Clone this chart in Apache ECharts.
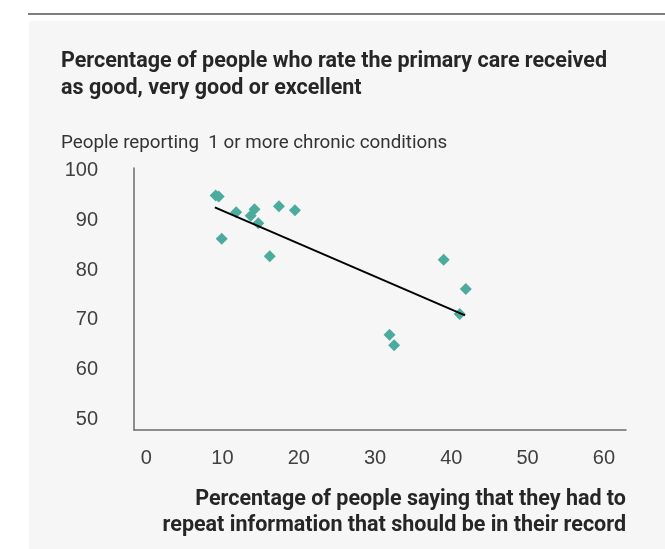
<!DOCTYPE html>
<html>
<head>
<meta charset="utf-8">
<script src="https://cdn.jsdelivr.net/npm/echarts@6/dist/echarts.min.js"></script>
<style>
html,body{margin:0;padding:0;background:#ffffff;}
#chart{width:665px;height:549px;}
</style>
</head>
<body>
<div id="chart"></div>
<script>
// ---- data ----
var xValues = [9.1, 9.5, 11.8, 14.2, 13.7, 14.7, 17.4, 19.5, 9.9, 16.2, 39.0, 41.9, 41.1, 31.9, 32.5];
var yValues = [95.0, 94.8, 91.6, 92.2, 90.9, 89.4, 92.8, 92.0, 86.3, 82.8, 82.1, 76.2, 71.2, 67.0, 64.9];
var trendX = [9.0, 41.8];
var trendY = [92.6, 70.9];
var xTickLabels = [0, 10, 20, 30, 40, 50, 60];
var yTickLabels = [50, 60, 70, 80, 90, 100];
var titleText = 'Percentage of people who rate the primary care received\nas good, very good or excellent';
var subtitleText = 'People reporting  1 or more chronic conditions';
var xAxisTitle = 'Percentage of people saying that they had to\nrepeat information that should be in their record';

var points = xValues.map(function (x, i) { return [x, yValues[i]]; });
var trend = trendX.map(function (x, i) { return [x, trendY[i]]; });

var chart = echarts.init(document.getElementById('chart'), null, {renderer: 'canvas'});
var labelFont = 'Liberation Sans, Arial, sans-serif';
var titleFont = 'Roboto, sans-serif';

chart.setOption({
  animation: false,
  graphic: [
    {type: 'rect', z: -100, shape: {x: 29, y: 21, width: 636, height: 528}, style: {fill: '#f6f6f6'}},
    {type: 'line', z: -100, shape: {x1: 28, y1: 14, x2: 665, y2: 14}, style: {stroke: '#555555', lineWidth: 1.5}}
  ],
  title: [
    {
      text: titleText,
      left: 61, top: 48, padding: 0,
      textStyle: {fontFamily: titleFont, fontSize: 21.5, fontWeight: 'bold', lineHeight: 27, color: '#262626'}
    },
    {
      text: subtitleText,
      left: 61, top: 134, padding: 0,
      textStyle: {fontFamily: titleFont, fontSize: 18.8, fontWeight: 'normal', color: '#333333'}
    }
  ],
  grid: {left: 134, right: 39, top: 168, bottom: 119, containLabel: false, outerBoundsMode: 'none'},
  xAxis: {
    type: 'value',
    min: -1.6, max: 62.9,
    splitLine: {show: false},
    axisTick: {show: false},
    axisLine: {show: true, onZero: false, lineStyle: {color: '#6b6b6b', width: 1.5}},
    axisLabel: {
      customValues: xTickLabels,
      margin: 18,
      fontFamily: labelFont, fontSize: 20, color: '#404040'
    },
    name: xAxisTitle,
    nameLocation: 'end',
    nameGap: 0,
    nameMoveOverlap: false,
    nameTextStyle: {
      fontFamily: titleFont, fontSize: 21.5, fontWeight: 'bold', color: '#262626',
      align: 'right', verticalAlign: 'top', lineHeight: 26,
      padding: [57, 0, 0, 0]
    }
  },
  yAxis: {
    type: 'value',
    min: 47.9, max: 100.5,
    splitLine: {show: false},
    axisTick: {show: false},
    axisLine: {show: true, onZero: false, lineStyle: {color: '#6b6b6b', width: 1.5}},
    axisLabel: {
      customValues: yTickLabels,
      margin: 36,
      fontFamily: labelFont, fontSize: 20, color: '#404040'
    }
  },
  series: [
    {
      type: 'scatter',
      data: points,
      symbol: 'diamond',
      symbolSize: 12,
      itemStyle: {color: '#4bac9e', opacity: 1}
    },
    {
      type: 'line',
      data: trend,
      symbol: 'none',
      lineStyle: {color: '#000000', width: 2},
      z: 3
    }
  ]
});
</script>
</body>
</html>
